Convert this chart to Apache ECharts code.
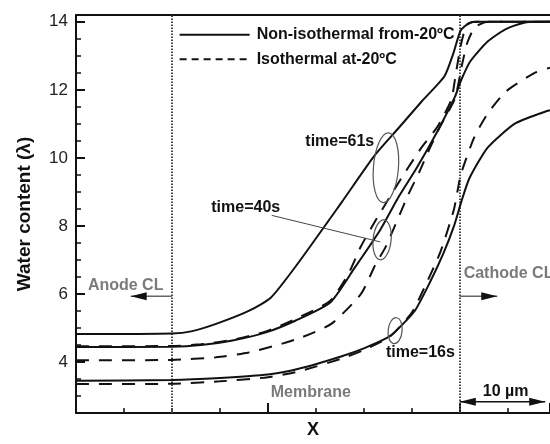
<!DOCTYPE html>
<html><head><meta charset="utf-8">
<script src="https://cdn.jsdelivr.net/npm/echarts@6/dist/echarts.min.js"></script>
<style>html,body{margin:0;padding:0;background:#fff}#c{width:550px;height:444px}</style>
</head><body><div id="c"></div>
<script>
// ---- data (x in µm across membrane, y = water content λ) ----
const nonIso16 = [[0,3.45],[10,3.47],[15,3.53],[20,3.63],[23.2,3.8],[27.7,4.17],[30,4.4],[32.5,4.72],[33.3,4.9],[35.3,5.5],[36.9,6.35],[38.3,7.2],[39.4,8.0],[40.2,8.75],[41,9.4],[42.9,10.3],[45.7,11.0],[48.8,11.35],[49.4,11.4]];
const iso16    = [[0,3.35],[10,3.36],[15,3.43],[20,3.55],[23.2,3.72],[27.7,4.1],[30,4.35],[32.5,4.7],[33.3,4.9],[35,5.45],[36.5,6.3],[38,7.25],[39.4,8.5],[40.1,9.5],[41.5,10.6],[42.9,11.3],[44.8,11.95],[47.8,12.5],[49.4,12.65]];
const nonIso40 = [[0,4.44],[10,4.45],[13,4.5],[16.3,4.63],[19.8,4.87],[22.9,5.22],[26.5,5.75],[29,6.75],[31.7,7.88],[33.6,8.84],[35.5,9.7],[37.7,10.8],[39.5,11.8],[40.1,12.26],[41.1,12.84],[42.9,13.42],[44.7,13.77],[46.7,13.97],[48,14],[49.4,14]];
const iso40    = [[0,4.05],[10,4.06],[14.6,4.14],[18,4.28],[21.5,4.54],[23.5,4.72],[26.6,5.12],[29.7,6.0],[31.2,6.86],[32.3,7.4],[34.6,8.9],[35.8,9.6],[36.9,10.3],[37.9,10.9],[39.5,11.75],[40.2,12.7],[40.8,13.4],[41.6,13.85],[43,14],[49.4,14]];
const nonIso61 = [[0,4.82],[10,4.84],[12,4.9],[14.6,5.12],[18,5.5],[20.3,5.89],[23,6.85],[27.7,8.7],[31.2,10.1],[33.6,10.87],[36,11.65],[38.4,12.4],[39.3,13.05],[40.1,13.75],[41,13.97],[42,14],[49.4,14]];
const iso61    = [[0,4.46],[10,4.47],[13,4.52],[16.3,4.65],[19.8,4.9],[22.9,5.27],[26.5,5.8],[28.4,6.6],[29.7,7.4],[31.2,8.15],[33.9,9.4],[36,10.3],[37.7,10.93],[39.1,11.7],[39.6,12.5],[40.1,13.3],[40.7,13.9],[41.5,14],[49.4,14]];
const yMajorTicks = [4,6,8,10,12,14];
const yMinorTicks = [3,3.5,4.5,5,5.5,6.5,7,7.5,8.5,9,9.5,10.5,11,11.5,12.5,13,13.5];
const regionBoundaries = [10, 40];
const legendNames = ['Non-isothermal from-20ºC', 'Isothermal at-20ºC'];

const FONT = '"Liberation Sans", Arial, Helvetica, sans-serif';
const chart = echarts.init(document.getElementById('c'), null, {renderer:'canvas'});
const solidStyle = {color:'#111', width:2, type:'solid'};
const dashStyle = {color:'#111', width:2, type:[13,10]};
function mk(name, data, ls, extra){
  return Object.assign({type:'line', name:name, data:data, symbol:'none', showSymbol:false,
    smooth:0.2, lineStyle:ls, silent:true, z:5}, extra||{});
}
const axisLineStyle = {color:'#111', width:2};
const option = {
  animation:false,
  grid:{left:76, top:15, right:-3, bottom:25},
  xAxis:[
    {type:'value', min:0, max:49.4, interval:20,
     axisLine:{lineStyle:axisLineStyle}, axisTick:{inside:true, length:10, lineStyle:{width:2, color:'#111'}},
     minorTick:{show:true, splitNumber:4, length:5, lineStyle:{width:1.5, color:'#111'}},
     axisLabel:{show:false}, splitLine:{show:false}, minorSplitLine:{show:false},
     name:'X', nameLocation:'middle', nameGap:8,
     nameTextStyle:{fontFamily:FONT, fontWeight:'bold', fontSize:18, color:'#111', verticalAlign:'top'}},
    {type:'value', position:'top', min:0, max:49.4,
     axisLine:{lineStyle:axisLineStyle}, axisTick:{show:false}, axisLabel:{show:false}, splitLine:{show:false}}
  ],
  yAxis:[
    {type:'value', min:2.5, max:14.2,
     axisLine:{lineStyle:axisLineStyle},
     axisTick:{inside:true, length:9, customValues:yMajorTicks, lineStyle:{width:2, color:'#111'}},
     axisLabel:{customValues:yMajorTicks, margin:8, fontFamily:FONT, fontSize:17, color:'#222'},
     splitLine:{show:false},
     name:'Water content (λ)', nameLocation:'middle', nameRotate:90, nameGap:42,
     nameTextStyle:{fontFamily:FONT, fontWeight:'bold', fontSize:19, color:'#111'}},
    {type:'value', min:2.5, max:14.2, position:'left', offset:0,
     axisLine:{show:false},
     axisTick:{inside:true, length:5, customValues:yMinorTicks, lineStyle:{width:1.5, color:'#111'}},
     axisLabel:{show:false}, splitLine:{show:false}}
  ],
  series:[
    mk(legendNames[0], nonIso16, solidStyle, {
      markLine:{silent:true, symbol:['none','none'], label:{show:false},
        lineStyle:{type:[1.5,1.5], color:'#444', width:2},
        data: regionBoundaries.map(v=>({xAxis:v}))}}),
    mk(legendNames[1], iso16, dashStyle),
    mk(legendNames[0], nonIso40, solidStyle),
    mk(legendNames[1], iso40, dashStyle),
    mk(legendNames[0], nonIso61, solidStyle),
    mk(legendNames[1], iso61, dashStyle)
  ]
};
chart.setOption(option);

// ---- annotations, anchored in data coordinates ----
function P(p){ return chart.convertToPixel({xAxisIndex:0, yAxisIndex:0}, p); }
const g = [];
function txt(p, s, color, size, align){
  const q = P(p);
  g.push({type:'text', x:q[0], y:q[1], z:20, style:{text:s, fill:color||'#111', fontFamily:FONT, fontWeight:'bold',
    fontSize:size||16, align:align||'left', verticalAlign:'middle'}});
}
function head(tip, dirx, len, hw, color){
  g.push({type:'polygon', z:20, shape:{points:[[tip[0],tip[1]],[tip[0]-dirx*len,tip[1]-hw],[tip[0]-dirx*len,tip[1]+hw]]}, style:{fill:color}});
}
function arrow(a, b, color, both){
  const p1 = P(a), p2 = P(b);
  g.push({type:'line', z:20, shape:{x1:p1[0], y1:p1[1], x2:p2[0], y2:p2[1]}, style:{stroke:color, lineWidth:1.5}});
  const d = Math.sign(p2[0]-p1[0]);
  head(p2, d, 16, 4, '#111');
  if (both) head(p1, -d, 16, 4, '#111');
}
function ell(c, rx, ry, rot){
  const q = P(c);
  g.push({type:'ellipse', z:20, x:q[0], y:q[1], rotation:rot||0, shape:{cx:0, cy:0, rx:rx, ry:ry},
    style:{fill:'none', stroke:'#555', lineWidth:1.2}});
}
// legend
const lg = [[10.8,13.62],[10.8,12.9]];
lg.forEach((p,i)=>{
  const q = P(p);
  g.push({type:'line', z:20, shape:{x1:q[0], y1:q[1], x2:q[0]+70, y2:q[1]},
    style:{stroke:'#111', lineWidth:2, lineDash: i ? [7,5] : null}});
  g.push({type:'text', x:q[0]+77, y:q[1], z:20, style:{text:legendNames[i], fill:'#111', fontFamily:FONT,
    fontWeight:'bold', fontSize:16, align:'left', verticalAlign:'middle'}});
});
txt([1.24,6.25], 'Anode CL', '#7a7a7a');
arrow([10,5.93],[5.7,5.93], '#666');
txt([40.4,6.6], 'Cathode CL', '#7a7a7a');
arrow([40,5.93],[43.9,5.93], '#666');
txt([20.3,3.09], 'Membrane', '#7a7a7a');
txt([42.4,3.12], '10 µm', '#111');
arrow([40,2.83],[48.9,2.83], '#111', true);
txt([23.9,10.49], 'time=61s');
ell([32.3,9.71], 12.5, 35, -0.08);
txt([14.1,8.55], 'time=40s');
(function(){ const a=P([20.4,8.31]), b=P([31.7,7.53]);
  g.push({type:'line', z:20, shape:{x1:a[0],y1:a[1],x2:b[0],y2:b[1]}, style:{stroke:'#444', lineWidth:1}}); })();
ell([31.9,7.59], 9, 20, -0.1);
txt([32.3,4.28], 'time=16s');
ell([33.26,4.92], 7, 13, -0.1);
chart.setOption({graphic:g});
</script></body></html>
